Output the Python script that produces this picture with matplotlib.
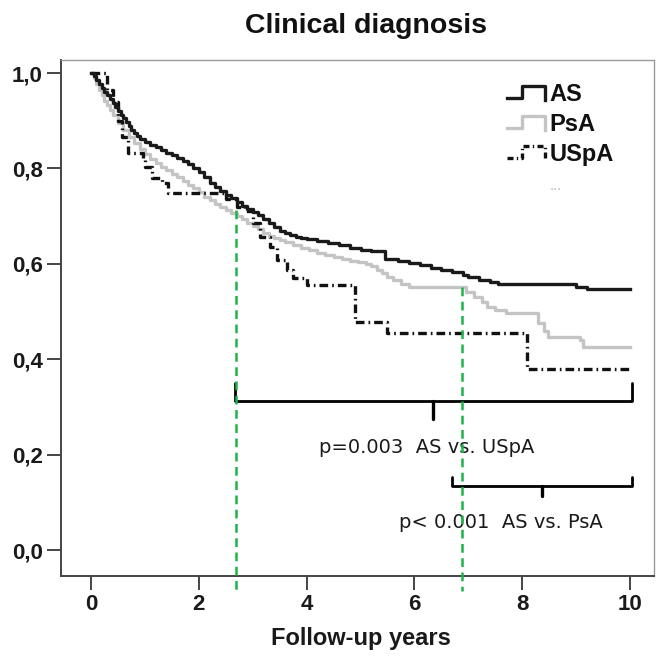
import matplotlib
matplotlib.use("Agg")
import matplotlib.pyplot as plt
from matplotlib.lines import Line2D
from matplotlib.legend_handler import HandlerBase
from matplotlib.font_manager import FontProperties

# ---------------- data ----------------
as_t = [0, 0.05, 0.1, 0.15, 0.2, 0.25, 0.3, 0.35, 0.4, 0.45, 0.5, 0.55, 0.6, 0.65, 0.7,
        0.75, 0.8, 0.85, 0.9, 1.0, 1.1, 1.2, 1.3, 1.4, 1.5, 1.6, 1.7, 1.8, 1.9, 2.0, 2.1,
        2.2, 2.3, 2.4, 2.5, 2.6, 2.7, 2.8, 2.9, 3.0, 3.1, 3.2, 3.3, 3.4, 3.5, 3.6, 3.7,
        3.8, 3.9, 4.0, 4.2, 4.4, 4.6, 4.8, 5.0, 5.2, 5.45, 5.7, 5.9, 6.1, 6.3, 6.5, 6.7,
        6.9, 7.0, 7.2, 7.4, 7.55, 9.0, 9.2, 10.0]
as_s = [1.0, 0.993, 0.985, 0.977, 0.969, 0.961, 0.953, 0.945, 0.937, 0.929, 0.921, 0.913,
        0.905, 0.897, 0.889, 0.881, 0.874, 0.867, 0.861, 0.855, 0.849, 0.844, 0.838,
        0.833, 0.828, 0.822, 0.816, 0.809, 0.801, 0.793, 0.782, 0.77, 0.76, 0.752, 0.744,
        0.737, 0.729, 0.722, 0.715, 0.709, 0.703, 0.695, 0.686, 0.677, 0.669, 0.664, 0.66,
        0.657, 0.654, 0.651, 0.647, 0.643, 0.639, 0.634, 0.63, 0.626, 0.61, 0.605, 0.601,
        0.597, 0.592, 0.587, 0.582, 0.576, 0.572, 0.567, 0.562, 0.557, 0.551, 0.547, 0.547]

psa_t = [0, 0.05, 0.1, 0.15, 0.2, 0.25, 0.3, 0.35, 0.4, 0.5, 0.6, 0.7, 0.8, 0.9, 1.0, 1.1,
         1.2, 1.3, 1.4, 1.5, 1.6, 1.7, 1.8, 1.9, 2.0, 2.1, 2.2, 2.3, 2.4, 2.5, 2.6, 2.7,
         2.8, 2.9, 3.0, 3.1, 3.2, 3.3, 3.4, 3.5, 3.6, 3.75, 3.9, 4.05, 4.2, 4.35, 4.5, 4.65,
         4.8, 4.95, 5.1, 5.2, 5.3, 5.4, 5.5, 5.6, 5.75, 5.9, 6.95, 7.1, 7.25, 7.35, 7.5,
         7.7, 8.3, 8.4, 8.47, 9.07, 9.13, 10.0]
psa_s = [1.0, 0.99, 0.978, 0.965, 0.953, 0.942, 0.932, 0.922, 0.912, 0.895, 0.88, 0.866,
         0.853, 0.841, 0.83, 0.82, 0.811, 0.803, 0.796, 0.789, 0.782, 0.774, 0.766, 0.758,
         0.75, 0.741, 0.733, 0.726, 0.719, 0.712, 0.706, 0.7, 0.693, 0.686, 0.679, 0.672,
         0.665, 0.659, 0.654, 0.649, 0.645, 0.64, 0.634, 0.628, 0.623, 0.618, 0.614, 0.61,
         0.606, 0.603, 0.6, 0.595, 0.588, 0.58, 0.573, 0.566, 0.558, 0.551, 0.54, 0.53,
         0.52, 0.51, 0.503, 0.497, 0.475, 0.46, 0.447, 0.44, 0.426, 0.426]

uspa_t = [0, 0.3, 0.4, 0.5, 0.57, 0.69, 0.96, 1.0, 1.13, 1.32, 1.43, 2.5, 2.7, 2.85,
          3.0, 3.14, 3.32, 3.45, 3.64, 3.75, 4.0, 4.9, 5.49, 8.09, 10.0]
uspa_s = [1.0, 0.965, 0.94, 0.90, 0.866, 0.832, 0.818, 0.803, 0.78, 0.77, 0.748, 0.735,
          0.72, 0.71, 0.685, 0.656, 0.635, 0.608, 0.587, 0.57, 0.556, 0.478, 0.455,
          0.38, 0.38]

group_labels = ["AS", "PsA", "USpA"]
censored_label = "..."
marker_years = [2.69, 6.88]          # green reference lines
marker_tops = [0.713, 0.551]
p_texts = ["p=0.003  AS vs. USpA", "p< 0.001  AS vs. PsA"]

title = "Clinical diagnosis"
xlabel = "Follow-up years"
xticks = [0, 2, 4, 6, 8, 10]
yticks = [0.0, 0.2, 0.4, 0.6, 0.8, 1.0]
ytick_labels = ["0,0", "0,2", "0,4", "0,6", "0,8", "1,0"]

# ---------------- figure ----------------
plt.rcParams['font.family'] = ['Liberation Sans', 'DejaVu Sans']
fig = plt.figure(figsize=(6.58, 6.57), dpi=100)
ax = fig.add_axes([61 / 658, 1 - 576 / 657, 593 / 658, 516 / 657])
ax.set_xlim(-0.557, 10.445)
ax.set_ylim(-0.0545, 1.0273)

dash_uspa = (0, (2.6, 1.2, 0.5, 1.2))
l_as, = ax.step(as_t, as_s, where='post', color='#1a1a1a', lw=2.4, label=group_labels[0],
                zorder=4)
l_psa, = ax.step(psa_t, psa_s, where='post', color='#c4c4c4', lw=2.4, label=group_labels[1],
                 zorder=3)
l_uspa, = ax.step(uspa_t, uspa_s, where='post', color='#111111', lw=2.4,
                  linestyle=dash_uspa, label=group_labels[2], zorder=3)

# green dashed reference lines
for xv, top in zip(marker_years, marker_tops):
    ax.plot([xv, xv], [top, -0.086], color='#1db34a', lw=1.8, linestyle=(0, (3.5, 2.2)),
            clip_on=False, zorder=5)

# braces
def brace(x0, x1, xm, yend, yline, ytip):
    ax.plot([x0, x0, x1, x1], [yend, yline, yline, yend], color='black', lw=2.0,
            solid_joinstyle='round', solid_capstyle='round', zorder=4)
    ax.plot([xm, xm], [yline, ytip], color='black', lw=2.4, solid_capstyle='round', zorder=4)

brace(2.67, 10.04, 6.35, 0.35, 0.312, 0.275)
brace(6.70, 10.04, 8.37, 0.153, 0.134, 0.113)

ax.text(6.22, 0.214, p_texts[0], ha='center', va='center', fontsize=14,
        family=['DejaVu Sans'], color='#1a1a1a')
ax.text(7.6, 0.057, p_texts[1], ha='center', va='center', fontsize=14,
        family=['DejaVu Sans'], color='#1a1a1a')

# axes styling
for side in ['top', 'right']:
    ax.spines[side].set_color('#9a9a9a')
    ax.spines[side].set_linewidth(1.0)
for side in ['left', 'bottom']:
    ax.spines[side].set_color('#444444')
    ax.spines[side].set_linewidth(1.4)

tick_fp = FontProperties(family='Liberation Sans', weight='bold', stretch='normal',
                         size=16)
ax.set_xticks(xticks)
ax.set_xticklabels([str(v) for v in xticks], fontproperties=tick_fp, color='#1a1a1a')
ax.set_yticks(yticks)
ax.set_yticklabels(ytick_labels, fontproperties=tick_fp, color='#1a1a1a')
ax.tick_params(axis='x', direction='out', length=10, width=1.4, color='#444444', pad=3)
ax.tick_params(axis='y', direction='out', length=10, width=1.4, color='#444444', pad=3)

ax.set_xlabel(xlabel, fontsize=17, fontweight='bold', color='#1a1a1a')
ax.xaxis.set_label_coords(0.505, (576 - 627) / 516)
fig.text(366 / 658, 1 - 26 / 657, title, ha='center', va='center', fontsize=20.5,
         fontweight='bold', color='#111111')

# legend with step-shaped handles
class StepHandler(HandlerBase):
    def create_artists(self, legend, orig_handle, xdescent, ydescent, width, height,
                       fontsize, trans):
        x0, y0 = -xdescent, -ydescent
        xs = [x0, x0 + 0.4 * width, x0 + 0.4 * width, x0 + width, x0 + width]
        ys = [y0 + 0.2 * height, y0 + 0.2 * height, y0 + 0.95 * height,
              y0 + 0.95 * height, y0 + 0.05 * height]
        ln = Line2D(xs, ys, color=orig_handle.get_color(), lw=orig_handle.get_linewidth(),
                    linestyle=orig_handle.get_linestyle(), transform=trans)
        if orig_handle is l_uspa:
            ln.set_dashes((1.8, 1.0, 0.4, 1.0))
        return [ln]

class BlankHandler(HandlerBase):
    def create_artists(self, legend, orig_handle, xdescent, ydescent, width, height,
                       fontsize, trans):
        ln = Line2D([0, 1], [0, 0], color='none', lw=0, transform=trans)
        return [ln]

cens = Line2D([], [], color='none', label=censored_label)
hmap = {l_as: StepHandler(), l_psa: StepHandler(), l_uspa: StepHandler(),
        cens: BlankHandler()}
leg = ax.legend(handles=[l_as, l_psa, l_uspa, cens], handler_map=hmap,
                loc='upper left', bbox_to_anchor=(0.752, 0.955), frameon=False,
                borderpad=0, borderaxespad=0, handlelength=1.6, handletextpad=0.2,
                labelspacing=0.3, prop={'weight': 'bold', 'size': 17})
for i, t in enumerate(leg.get_texts()):
    t.set_color('#111111' if i < 3 else '#bbbbbb')
leg.get_texts()[3].set_fontweight('normal')
leg.get_texts()[3].set_fontsize(11)

fig.savefig("out.png", dpi=100)
